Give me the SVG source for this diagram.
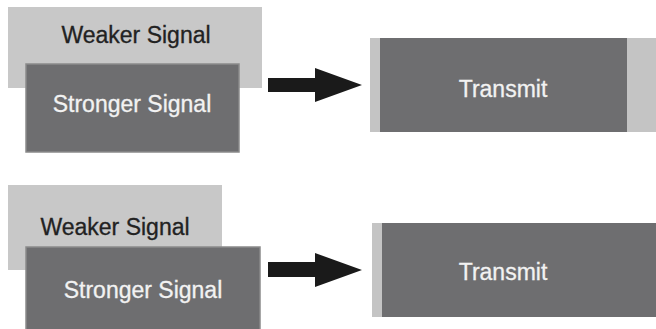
<svg xmlns="http://www.w3.org/2000/svg" width="656" height="329" viewBox="0 0 656 329">
<defs>
<style>
.weak{fill:#c8c8c8}
.strong{fill:#6e6e70;stroke:#8a8a8a;stroke-width:1.5}
.strip{fill:#c4c4c4}
.dt{font-family:"Liberation Sans",Arial,sans-serif;font-size:23px;fill:#222222;stroke:#222222;stroke-width:0.3;text-anchor:middle}
.lt{font-family:"Liberation Sans",Arial,sans-serif;font-size:23px;fill:#f2f2f2;stroke:#f2f2f2;stroke-width:0.3;text-anchor:middle}
.arrow{fill:#1a1a1a}
</style>
</defs>
<rect width="656" height="329" fill="#ffffff"/>
<g id="weak1"><rect class="weak" x="8" y="7" width="254" height="81"/><text class="dt" x="136" y="43">Weaker Signal</text></g>
<g id="strong1"><rect class="strong" x="26" y="64" width="213" height="88"/><text class="lt" x="132" y="112">Stronger Signal</text></g>
<g id="transmit1"><rect class="strip" x="370" y="38" width="286" height="94"/><rect fill="#6e6e70" x="380" y="38" width="247" height="94"/><text class="lt" x="503" y="97">Transmit</text></g>
<g id="weak2"><rect class="weak" x="8" y="185" width="214" height="85"/><text class="dt" x="115" y="235">Weaker Signal</text></g>
<g id="strong2"><rect class="strong" x="26" y="247" width="234" height="90"/><text class="lt" x="143" y="298">Stronger Signal</text></g>
<g id="transmit2"><rect class="strip" x="372" y="223" width="284" height="94"/><rect fill="#6e6e70" x="382" y="223" width="274" height="94"/><text class="lt" x="503" y="280">Transmit</text></g>
<g id="connectors">
<polygon class="arrow" points="268,78 315,78 315,68 362,85 315,102 315,92 268,92"/>
<polygon class="arrow" points="268,262 315,262 315,253 362,270 315,287 315,277 268,277"/>
</g>
</svg>
